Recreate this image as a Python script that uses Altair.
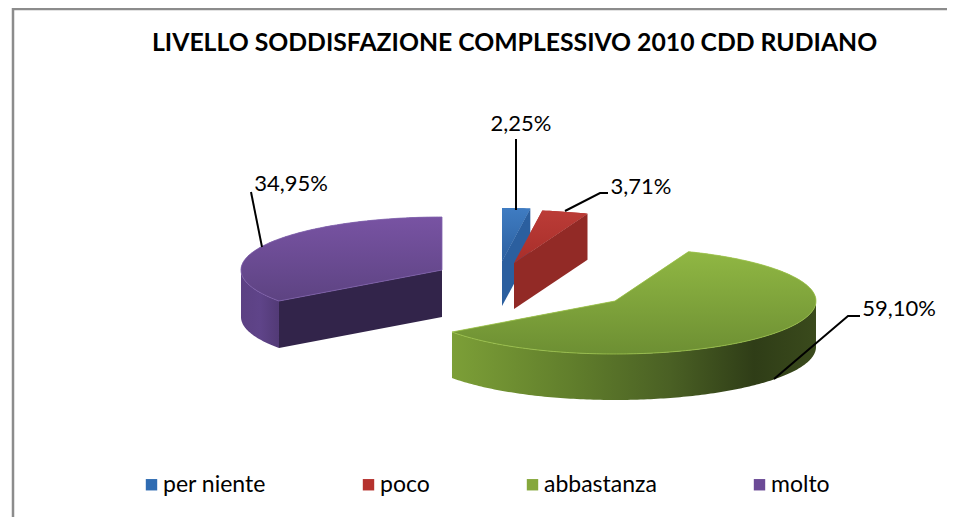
import math
import altair as alt

# ---- chart values ----
TITLE = "LIVELLO SODDISFAZIONE COMPLESSIVO 2010 CDD RUDIANO"
labels = ["per niente", "poco", "abbastanza", "molto"]
values = [2.25, 3.71, 59.10, 34.95]
legend_colors = ["#2f6cb2", "#b5322e", "#86a83c", "#6b4a96"]

# ---- layout / style (page pixels minus the 8px margin) ----
OFF = 8
RX, RY = 201, 53
centers = [(502, 261), (514, 263), (615, 301), (442, 270)]
depths = [45, 46, 46, 47]
top_stops = [("#3f7cc2", "#2c60a0"), ("#bb3c37", "#a82e2a"), ("#90b743", "#6d8f33"), ("#7853a3", "#5d4382")]
cut_wall = {0: ("a1", "#2b5f9f"), 1: ("a1", "#922a26"), 3: ("a0", "#32244a")}
wall_stops = {
    2: [("#7c9f37", 0), ("#5f7c2b", 0.35), ("#4a6024", 0.6), ("#2f3d17", 0.83), ("#3a4a1c", 1)],
    3: [("#5c4183", 0), ("#5f4489", 0.5), ("#523a76", 1)],
}
rim = {2: "#9fc54f", 3: "#8263ad"}
leaders = [
    [(516, 139), (516, 210)],
    [(565, 211), (600, 193), (608, 193)],
    [(774, 379), (848, 316), (860, 316)],
    [(262, 247), (251, 192)],
]
label_pos = [(521, 124), (641, 187), (899, 309), (291, 184)]
frame = [(13, 517), (13, 9), (947, 9)]
PROJ = dict(type="identity", scale=1, translate=[-OFF, -OFF])


def pt(i, a, z=0):
    cx, cy = centers[i]
    return [cx + RX * math.sin(a), cy - RY * math.cos(a) + z]


def feature(kind, coords, label):
    return {"type": "Feature", "properties": {"label": label},
            "geometry": {"type": kind, "coordinates": coords}}


def arc(i, a0, a1, z=0):
    n = max(2, int(abs(a1 - a0) * 60))
    return [pt(i, a0 + (a1 - a0) * k / n, z) for k in range(n + 1)]


total = sum(values)
bounds, cum = [], 0.0
for v in values:
    bounds.append((cum / total * 2 * math.pi, (cum + v) / total * 2 * math.pi))
    cum += v


def shape(feat, **mark):
    return alt.Chart(alt.Data(values=[feat])).mark_geoshape(**mark).project(**PROJ)


def vgrad(c0, c1):
    return alt.LinearGradient(gradient="linear", x1=0, x2=0, y1=0, y2=1,
                              stops=[alt.GradientStop(color=c0, offset=0), alt.GradientStop(color=c1, offset=1)])


def hgrad(stops):
    return alt.LinearGradient(gradient="linear", x1=0, x2=1, y1=0, y2=0,
                              stops=[alt.GradientStop(color=c, offset=o) for c, o in stops])


layers = []

# flat top faces carry the legend
tops = []
for i, lab in enumerate(labels):
    a0, a1 = bounds[i]
    tops.append(feature("Polygon", [[list(centers[i])] + arc(i, a0, a1) + [list(centers[i])]], lab))
legend_layer = alt.Chart(alt.Data(values=tops)).mark_geoshape(strokeWidth=0).project(**PROJ).encode(
    fill=alt.Fill(
        "properties.label:N",
        scale=alt.Scale(domain=labels, range=legend_colors),
        legend=alt.Legend(
            title=None, orient="none", legendX=132, legendY=465, direction="horizontal", columns=4,
            symbolType="square", symbolSize=130, symbolStrokeWidth=0, labelFont="Lato", labelFontSize=23,
            labelColor="#000000", labelOffset=0, columnPadding=91, labelLimit=300,
        ),
    )
)
layers.append(legend_layer)

# draw back to front
for i in [3, 2, 0, 1]:
    a0, a1 = bounds[i]
    lab = labels[i]
    d = depths[i]
    if i in cut_wall:
        edge, col = cut_wall[i]
        a = a1 if edge == "a1" else a0
        c = list(centers[i])
        quad = [c, pt(i, a), pt(i, a, d), [c[0], c[1] + d], c]
        layers.append(shape(feature("Polygon", [quad], lab), fill=col, strokeWidth=0))
    if i in wall_stops:
        lo, hi = max(a0, math.pi / 2), min(a1, 3 * math.pi / 2)
        ring = arc(i, lo, hi) + arc(i, hi, lo, d)
        ring.append(ring[0])
        layers.append(shape(feature("Polygon", [ring], lab), fill=hgrad(wall_stops[i]), strokeWidth=0))
    ring = [list(centers[i])] + arc(i, a0, a1) + [list(centers[i])]
    mark = dict(fill=vgrad(*top_stops[i]), strokeWidth=0)
    if i in rim:
        mark.update(stroke=rim[i], strokeWidth=0.8)
    layers.append(shape(feature("Polygon", [ring], lab), **mark))

# leader lines and frame
for line in leaders:
    layers.append(shape(feature("LineString", [list(p) for p in line], ""), filled=False, stroke="#000000", strokeWidth=2))
layers.append(shape(feature("LineString", [list(p) for p in frame], ""), filled=False, stroke="#8c8c8c", strokeWidth=2.5))

# percentage labels
label_rows = [
    {"x": x - OFF, "y": y - OFF, "t": f"{v:.2f}".replace(".", ",") + "%"}
    for (x, y), v in zip(label_pos, values)
]
layers.append(
    alt.Chart(alt.Data(values=label_rows)).mark_text(font="Lato", fontSize=22, color="#000000", align="center", baseline="middle").encode(
        x=alt.X("x:Q", scale=None, axis=None),
        y=alt.Y("y:Q", scale=None, axis=None),
        text="t:N",
    )
)

chart = alt.layer(*layers).properties(
    width=939,
    height=509,
    padding=0,
    background="#ffffff",
    autosize=alt.AutoSizeParams(type="none"),
    title=alt.TitleParams(TITLE, anchor="start", frame="group", dx=144, dy=52, font="Lato", fontSize=24.75,
                          fontWeight="bold", color="#000000"),
).configure_view(stroke=None)

chart.save("out.html", embed_options={"renderer": "svg", "actions": False})
